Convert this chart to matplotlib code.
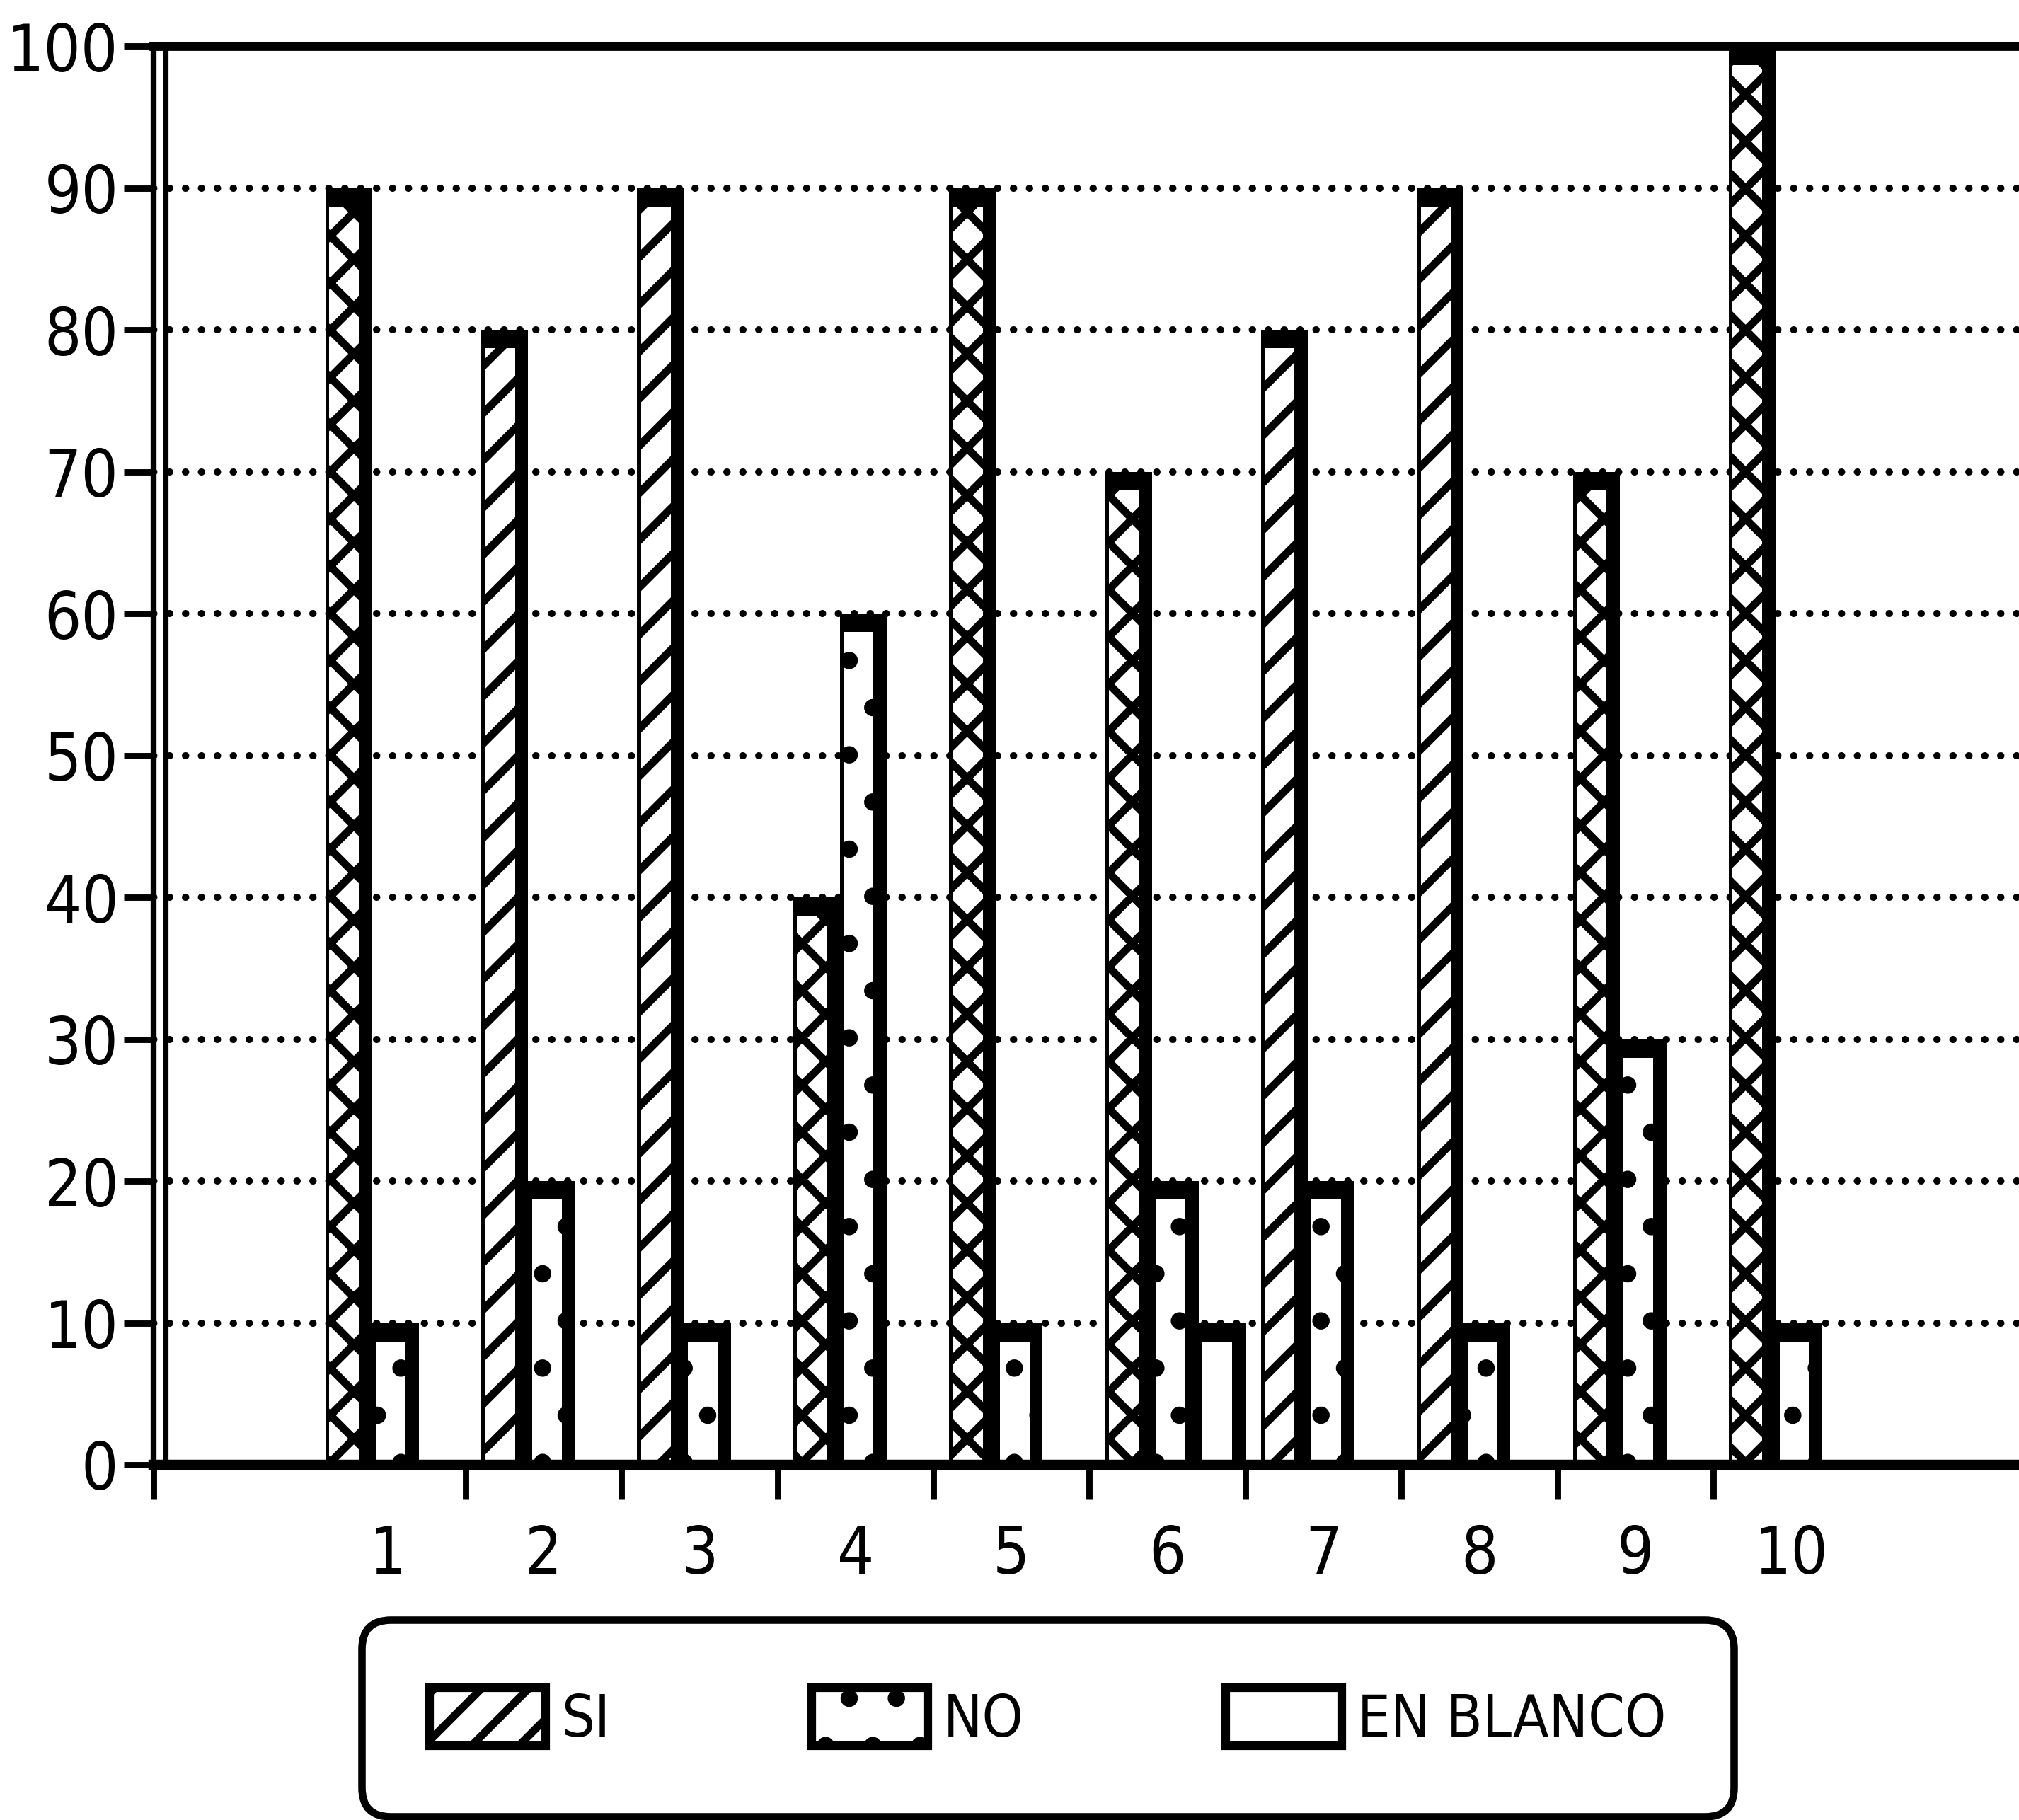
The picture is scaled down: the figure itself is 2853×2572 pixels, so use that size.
import os
import matplotlib
matplotlib.use('Agg')
import matplotlib.pyplot as plt
from matplotlib import font_manager as fm
from matplotlib.patches import Patch
from matplotlib.textpath import TextPath
import numpy as np

# ---------------- data ----------------
categories = ['1', '2', '3', '4', '5', '6', '7', '8', '9', '10']
si = [90, 80, 90, 40, 90, 70, 80, 90, 70, 100]
no = [10, 20, 10, 60, 10, 20, 20, 10, 30, 10]
en_blanco = [0, 0, 0, 0, 0, 10, 0, 0, 0, 0]
series_names = ['SI', 'NO', 'EN BLANCO']
y_ticks = [0, 10, 20, 30, 40, 50, 60, 70, 80, 90, 100]

# hatch style per SI bar (as printed in the original)
si_hatches = ['xx', '//', '//', 'xx', 'xx', 'xx', '//', '//', 'xx', 'xx']


# ---------------- font choice (narrow if available) ----------------
def pick_font():
    files = [f.fname for f in fm.fontManager.ttflist]
    prefs = ['liberationsansnarrow-regular', 'dejavusanscondensed.ttf',
             'robotocondensed-regular', 'roboto_condensed-regular',
             'opensans_condensed-regular', 'opensans-condensedregular',
             'notosans-condensed.ttf', 'notosans-condensedregular',
             'liberationsansnarrow-bold', 'dejavusanscondensed-bold']
    for p in prefs:
        for f in files:
            if p in os.path.basename(f).lower():
                return f
    for f in files:
        b = os.path.basename(f).lower()
        if ('condensed' in b or 'narrow' in b) and 'italic' not in b and 'oblique' not in b:
            return f
    return None


path = pick_font()
if path:
    FP = fm.FontProperties(fname=path)
else:
    FP = fm.FontProperties(family='DejaVu Sans')
FPL = FP.copy()

DPI = 400
PX = 72.0 / DPI  # points per pixel

ext = TextPath((0, 0), '100', size=1, prop=FP).get_extents()
FS = min(143 * PX / ext.width, 84 * PX / ext.height)
FP.set_size(FS)

ext_l = TextPath((0, 0), 'EN BLANCO', size=1, prop=FPL).get_extents()
FSL = min(425 * PX / ext_l.width, 80 * PX / ext_l.height)
FPL.set_size(FSL)

plt.rcParams['hatch.linewidth'] = 2.0
plt.rcParams['hatch.color'] = 'black'

fig = plt.figure(figsize=(2853 / DPI, 2572 / DPI), dpi=DPI)
fig.patch.set_facecolor('white')

W_SHR = 1568.0
H_SHR = 1414.0
left = 119.5 / W_SHR
bottom = 1 - 1138 / H_SHR
top = 1 - 36 / H_SHR
unit = 121.1 / W_SHR
ax = fig.add_axes([left, bottom, unit * 12, top - bottom])
ax.set_xlim(0, 12)
ax.set_ylim(0, 100)

x = np.arange(1, len(categories) + 1)
W = 0.3
IN_L, IN_R, IN_T = 0.025, 0.085, 1.3


def draw_series(vals, off, hatches):
    vals = np.asarray(vals, dtype=float)
    ax.bar(x + off, vals, width=W, align='edge', color='black', linewidth=0, zorder=3)
    inner = ax.bar(x + off + IN_L, np.maximum(vals - IN_T, 0), width=W - IN_L - IN_R,
                   align='edge', color='white', edgecolor='black', linewidth=0, zorder=4)
    for p, h in zip(inner, hatches):
        p.set_hatch(h)


draw_series(si, 0.1, si_hatches)
draw_series(no, 0.4, ['.'] * len(no))
draw_series(en_blanco, 0.7, [''] * len(en_blanco))

# grid
ax.set_axisbelow(True)
ax.yaxis.grid(True, color='black', linestyle=(0, (0.05, 2.2)), linewidth=1.8,
              dash_capstyle='round')
ax.xaxis.grid(False)

# spines
for s in ['top', 'bottom', 'left']:
    ax.spines[s].set_color('black')
    ax.spines[s].set_zorder(6)
ax.spines['right'].set_visible(False)
ax.spines['top'].set_linewidth(2.3)
ax.spines['bottom'].set_linewidth(2.6)
ax.spines['left'].set_linewidth(1.5)
ax.axvline(0.075, color='black', linewidth=1.3, zorder=6)

# y ticks
ax.set_yticks(y_ticks)
ax.set_yticklabels([str(v) for v in y_ticks])
ax.tick_params(axis='y', direction='out', length=7.5, width=1.6, pad=1.5)

# x ticks: marks at boundaries, labels centred
marks = [0] + list(range(2, len(categories) + 1))
ax.set_xticks(marks)
ax.set_xticklabels([''] * len(marks))
ax.set_xticks(x + 0.5, minor=True)
ax.set_xticklabels(categories, minor=True)
ax.tick_params(axis='x', which='major', direction='out', length=8.8, width=1.6)
ax.tick_params(axis='x', which='minor', length=0, pad=15)

for lbl in ax.get_yticklabels() + ax.get_xticklabels(minor=True):
    lbl.set_fontproperties(FP)

# legend
handles = [Patch(facecolor='white', edgecolor='black', hatch='//', linewidth=2.2),
           Patch(facecolor='white', edgecolor='black', hatch='.', linewidth=2.2),
           Patch(facecolor='white', edgecolor='black', linewidth=2.2)]
em = FSL  # points
leg = fig.legend(handles, series_names, loc='center', bbox_to_anchor=(0.519, 0.056),
                 ncol=3, prop=FPL, frameon=True, fancybox=True,
                 handlelength=164 * PX / em, handleheight=96 * PX / em,
                 handletextpad=22 * PX / em,
                 columnspacing=285 * PX / em, borderpad=96 * PX / em,
                 framealpha=1, edgecolor='black')
leg.get_frame().set_linewidth(1.9)
leg.get_frame().set_boxstyle('round', pad=0, rounding_size=0.5)

fig.savefig('out.png', dpi=DPI, facecolor='white')
